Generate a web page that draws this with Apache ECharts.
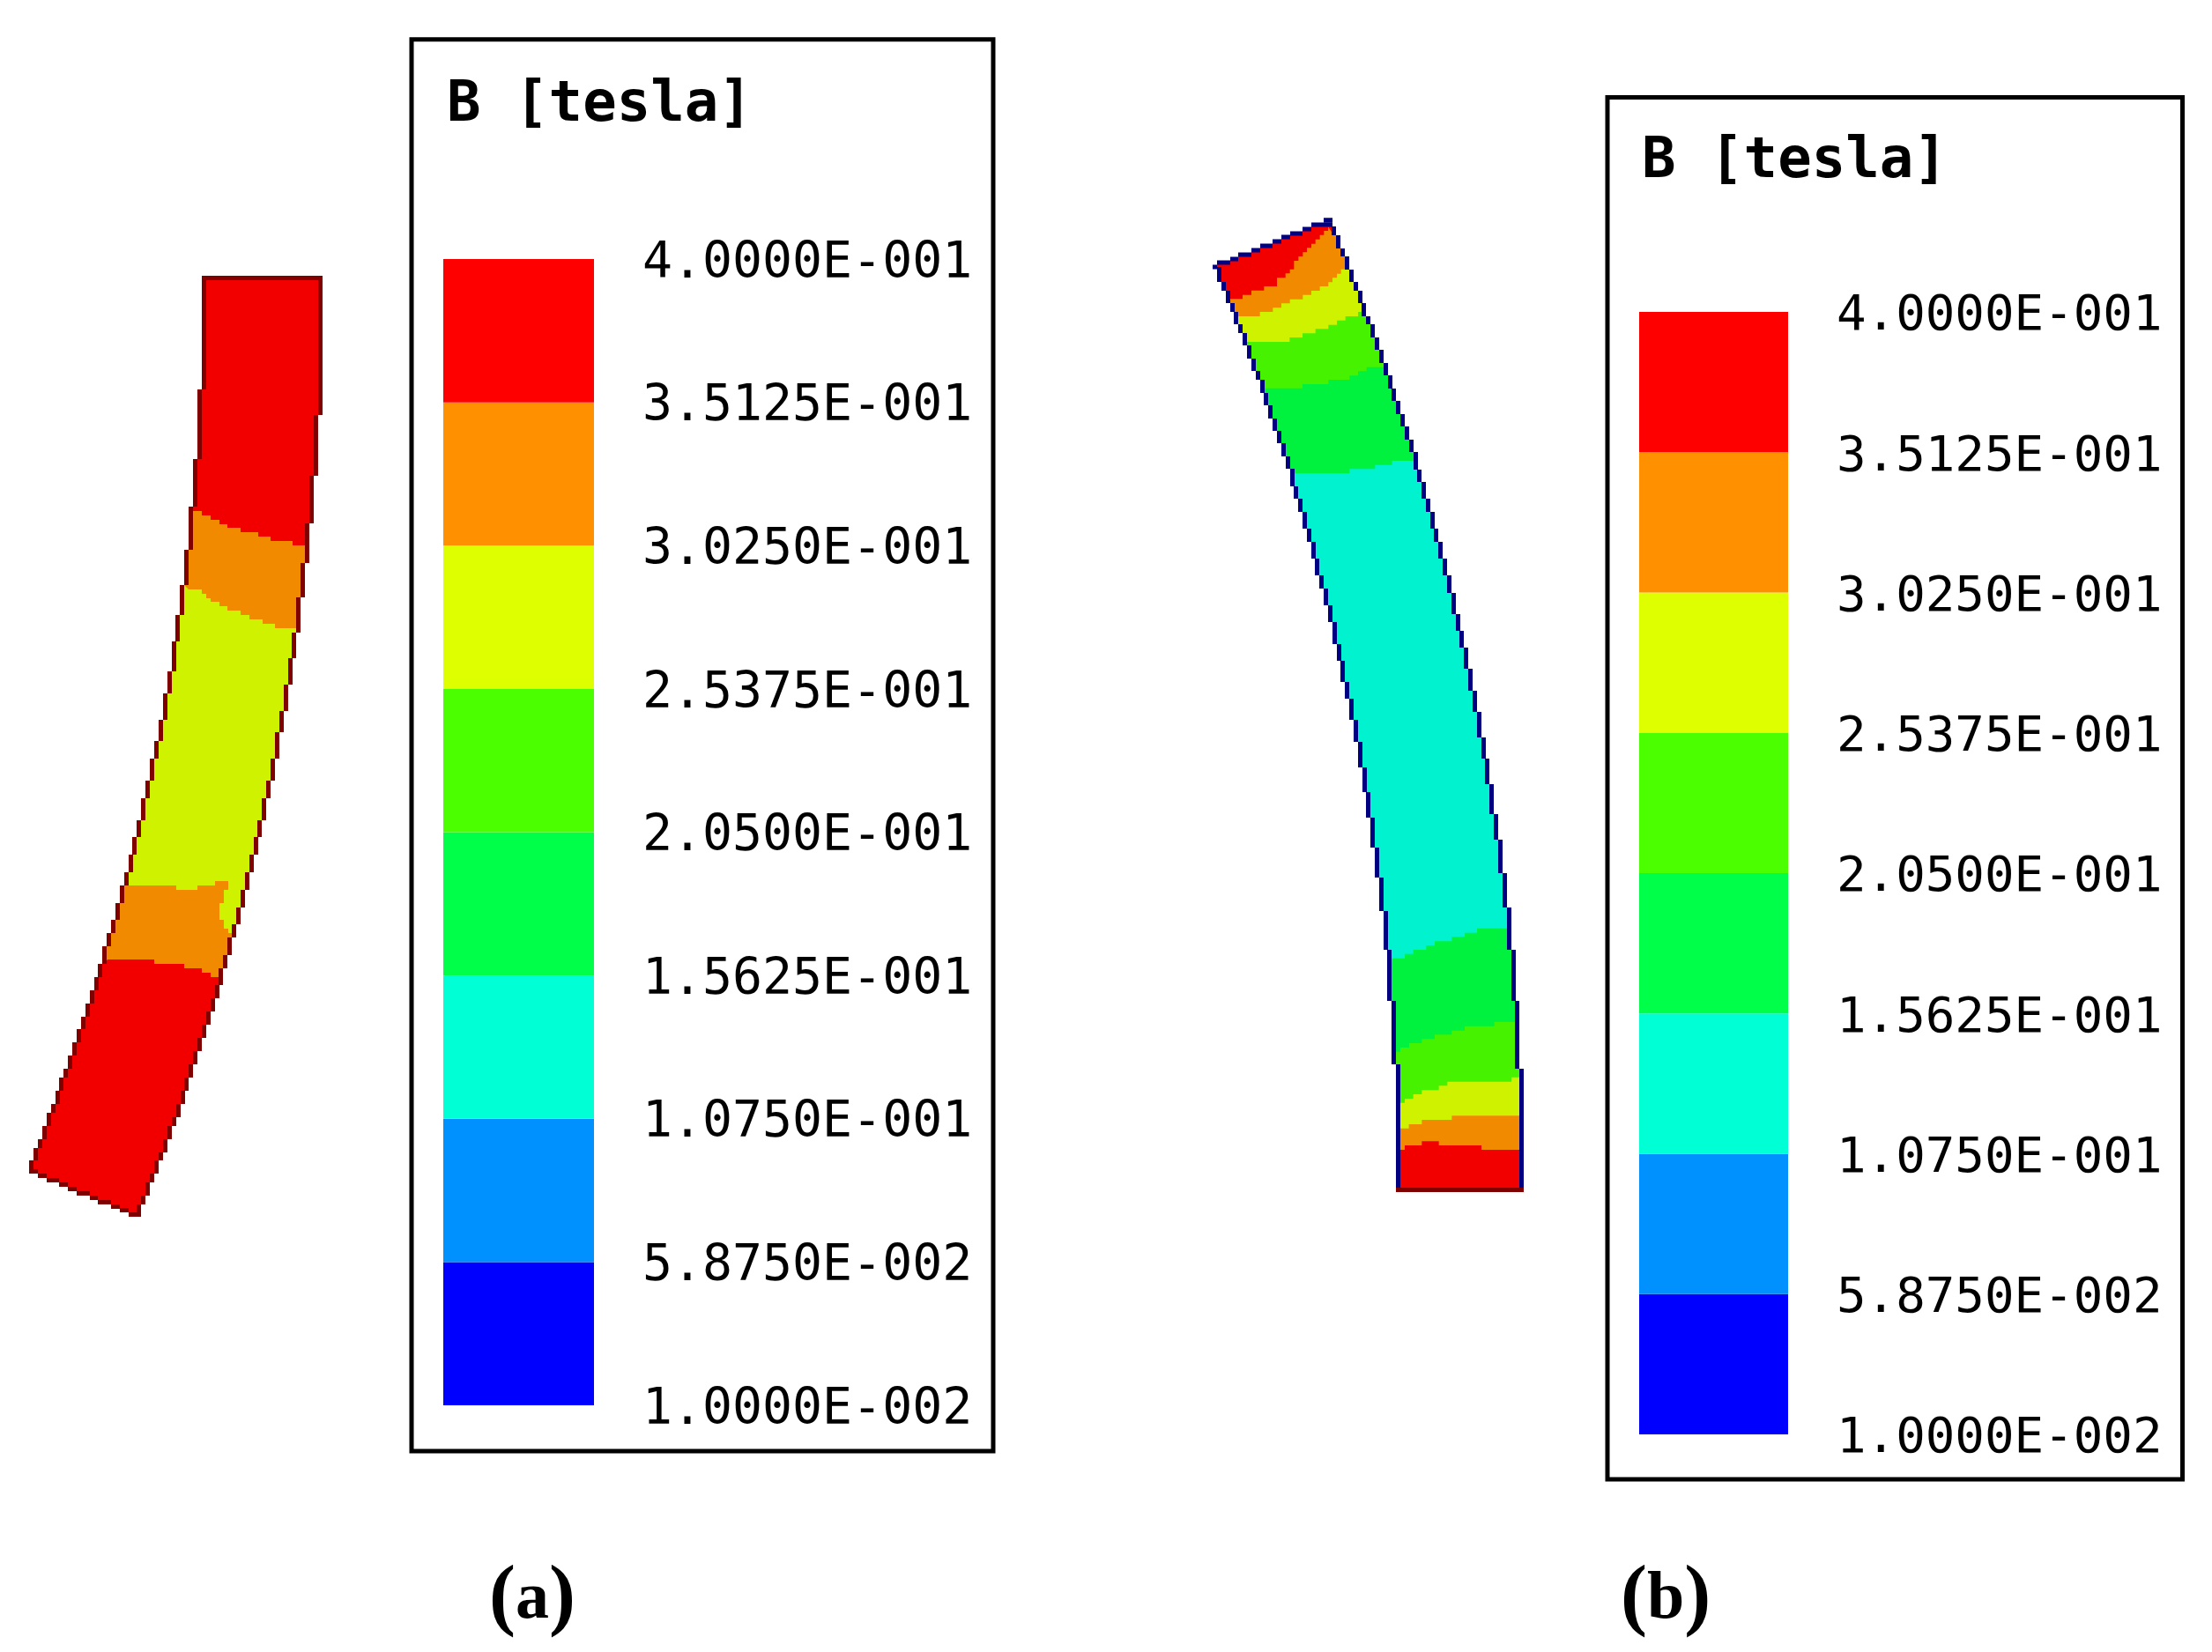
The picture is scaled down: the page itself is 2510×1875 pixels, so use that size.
<!DOCTYPE html>
<html>
<head>
<meta charset="utf-8">
<style>html,body{margin:0;padding:0;background:#fff}#c{width:2510px;height:1875px}</style>
<script src="https://cdn.jsdelivr.net/npm/echarts@6/dist/echarts.min.js"></script>
</head>
<body>
<div id="c"></div>
<script>
// ---------- legend data ----------
const tickLabels = ['1.0000E-002','5.8750E-002','1.0750E-001','1.5625E-001','2.0500E-001','2.5375E-001','3.0250E-001','3.5125E-001','4.0000E-001'];
const legendColors = ['#0000ff','#0091ff','#00ffd5','#00ff48','#4cff00','#ddff00','#ff9100','#ff0000'];
const legendBand = [1,1,1,1,1,1,1,1];
const titleText = 'B [tesla]';

// ---------- contour fill colours ----------
const RED='#f20000', ORA='#f28a00', YEL='#cef200', GR1='#46f200', GR2='#00f23e', CYA='#00f2ce';

// ---------- beam (a) outline, in image units: [x, y where the step ends] ----------
const leftA = [[229,442],[224,521],[219,575],[214,624],[209,664],[204,698],[199,728],[195,762],[190,787],[185,817],[180,841],[175,861],[170,886],[165,906],[160,931],[155,950],[150,970],[146,990],[141,1005],[136,1025],[131,1044],[126,1059],[121,1074],[116,1094],[111,1109],[107,1124],[102,1139],[97,1154],[92,1168],[87,1183],[82,1198],[77,1213],[72,1223],[67,1238],[63,1253],[58,1263],[53,1278],[48,1293],[43,1303],[38,1317],[33,1332]];
const rightA = [[366,471],[361,540],[356,594],[351,639],[346,678],[341,718],[336,747],[332,777],[327,807],[322,831],[317,861],[312,886],[307,906],[302,931],[297,950],[293,970],[288,990],[283,1010],[278,1030],[273,1049],[268,1064],[263,1084],[258,1099],[253,1118],[249,1133],[244,1148],[239,1163],[234,1178],[229,1193],[224,1208],[219,1223],[214,1238],[210,1253],[205,1268],[200,1278],[195,1293],[190,1308],[185,1317],[180,1332],[175,1342],[170,1357],[165,1367],[160,1381]];
const bottomA = [[43,1329.5],[53,1334.5],[67,1339.5],[77,1344.5],[87,1349.5],[102,1354.5],[111,1359.5],[126,1364.5],[136,1369.5],[146,1373.5],[160,1378.5]];
const topA = [[229,315.5],[366,315.5]];

// contour boundaries (a)
const a1 = [[219,580],[229,580],[229,585],[239,585],[239,590],[249,590],[249,595],[258,595],[258,599],[273,599],[273,604],[293,604],[293,609],[307,609],[307,614],[332,614],[332,619],[347,619]];
const a2 = [[209,664],[214,669],[229,669],[229,674],[234,674],[234,679],[239,679],[239,683],[249,683],[249,688],[258,688],[258,693],[273,693],[273,698],[283,698],[283,703],[298,703],[298,708],[312,708],[312,713],[337,713]];
const a3 = [[141,1005],[200,1005],[200,1010],[224,1010],[224,1005],[244,1005],[244,1000],[259,1000],[259,1010],[254,1010],[254,1025],[249,1025],[249,1044],[254,1044],[254,1054],[259,1054],[259,1059],[263,1059]];
const a4 = [[122,1089],[175,1089],[175,1094],[209,1094],[209,1099],[229,1099],[229,1104],[239,1104],[239,1109],[249,1109]];

// ---------- beam (b) outline ----------
const leftB = [[1381,320],[1386,330],[1391,344],[1396,354],[1400,368],[1405,378],[1410,392],[1415,407],[1420,421],[1425,431],[1430,446],[1434,460],[1439,475],[1444,489],[1449,503],[1454,518],[1459,532],[1464,552],[1468,566],[1473,581],[1478,600],[1483,615],[1488,634],[1492,653],[1497,668],[1502,687],[1507,706],[1512,731],[1517,750],[1521,774],[1526,793],[1531,817],[1536,842],[1541,871],[1546,899],[1550,928],[1555,962],[1560,996],[1565,1034],[1570,1078],[1574,1136],[1579,1208],[1584,1353]];
const rightB = [[1516,267],[1521,282],[1526,291],[1531,306],[1536,320],[1541,330],[1546,344],[1550,359],[1555,368],[1560,383],[1565,397],[1570,412],[1575,426],[1580,441],[1584,455],[1589,470],[1594,484],[1599,499],[1604,513],[1609,533],[1613,547],[1618,566],[1623,581],[1628,600],[1632,615],[1637,634],[1642,653],[1647,673],[1652,697],[1657,716],[1661,735],[1666,759],[1671,784],[1676,808],[1681,837],[1686,861],[1690,890],[1695,924],[1700,953],[1705,991],[1710,1030],[1715,1078],[1720,1136],[1724,1213],[1729,1353]];
const topB = [[1376,303],[1381,303],[1381,298],[1396,298],[1396,294],[1405,294],[1405,289],[1420,289],[1420,284],[1430,284],[1430,279],[1444,279],[1444,274],[1454,274],[1454,269],[1464,269],[1464,265],[1478,265],[1478,260],[1488,260],[1488,255],[1512,255],[1512,250],[1502,250],[1512,250],[1512,257]];
const bottomB = [[1729,1350.5]];

// contour boundaries (b), first group in upper crop units, second in lower crop units
const b1z = [[137,328],[180,328],[180,314],[210,314],[210,299],[253,299],[253,285],[297,285],[297,256],[326,256],[326,241],[341,241],[341,227],[355,227],[355,198],[370,198],[370,183],[385,183],[385,169],[399,169],[399,154],[414,154],[414,140],[428,140],[428,125],[443,125],[443,110],[457,110],[457,96],[471,96],[471,82]];
const b2z = [[166,387],[239,387],[239,372],[283,372],[283,358],[312,358],[312,343],[341,343],[341,329],[385,329],[385,314],[414,314],[414,300],[443,300],[443,285],[472,285],[472,271],[486,271],[486,256],[501,256],[501,242],[515,242],[515,227],[530,227]];
const b3z = [[195,474],[340,474],[340,459],[384,459],[384,445],[428,445],[428,430],[472,430],[472,416],[501,416],[501,401],[530,401],[530,387],[573,387],[573,372],[587,372]];
const b4z = [[253,632],[384,632],[384,618],[472,618],[472,603],[544,603],[544,589],[573,589],[573,574],[602,574],[602,560],[660,560]];
const b5z = [[355,922],[544,922],[544,907],[631,907],[631,893],[689,893],[689,879],[762,879]];
const b6z = [[148,203],[192,203],[192,188],[221,188],[221,174],[265,174],[265,159],[294,159],[294,145],[352,145],[352,130],[396,130],[396,116],[438,116],[438,101],[540,101]];
const b7z = [[163,521],[177,521],[177,507],[207,507],[207,492],[250,492],[250,478],[294,478],[294,463],[352,463],[352,449],[396,449],[396,434],[497,434],[497,419],[569,419]];
const b8z = [[177,695],[192,695],[192,681],[221,681],[221,666],[250,666],[250,652],[308,652],[308,637],[337,637],[337,623],[555,623],[555,608],[583,608]];
const b9z = [[177,782],[206,782],[206,768],[250,768],[250,753],[352,753],[352,739],[583,739]];
const b10z = [[177,855],[192,855],[192,840],[250,840],[250,826],[308,826],[308,840],[453,840],[453,855],[583,855]];

// ---------- helpers ----------
const upper = p => p.map(q => [1350 + q[0]/3, 230 + q[1]/3]);
const lower = p => p.map(q => [1530 + q[0]/3, 1020 + q[1]/3]);
function stair(list, y0, dx) {
  const pts = []; let y = y0;
  list.forEach(s => { pts.push([s[0]+dx, y], [s[0]+dx, s[1]]); y = s[1]; });
  return pts;
}
function flat(list, x0) {
  const pts = []; let x = x0;
  list.forEach(s => { pts.push([x, s[1]], [s[0], s[1]]); x = s[0]; });
  return pts;
}
function beam(left, right, bottom, top, y0L, y0R, bandDefs, baseColor) {
  const L = stair(left, y0L, 2.5), R = stair(right, y0R, -2.5);
  L[L.length-1][1] -= 2.5; R[R.length-1][1] -= 2.5;
  const B = flat(bottom, L[L.length-1][0]-2.5);
  const outline = top.concat(R, B.slice().reverse(), L.slice().reverse());
  const polys = [{pts: outline, fill: baseColor}];
  bandDefs.forEach(d => {
    const bd = d[0], yS = bd[0][1], yE = bd[bd.length-1][1];
    const rr = R.filter(p => p[1] > yE), ll = L.filter(p => p[1] > yS);
    polys.push({pts: bd.concat(rr, B.slice().reverse(), ll.slice().reverse()), fill: d[1]});
  });
  // outline pieces: vertical runs at the sides, horizontal runs at the ends
  const sidePieces = [];
  [L, R].forEach(E => { for (let i=0;i<E.length;i+=2) sidePieces.push([E[i],E[i+1]]); });
  const capPieces = [];
  for (let i=0;i<top.length-1;i++) if (top[i][1]===top[i+1][1]) capPieces.push([top[i],top[i+1]]);
  const bottomPieces = [];
  for (let i=0;i<B.length;i+=2) bottomPieces.push([B[i],B[i+1]]);
  return {polys, sidePieces, capPieces, bottomPieces};
}
const A = beam(leftA, rightA, bottomA, topA, 315.5, 315.5,
  [[a1,ORA],[a2,YEL],[a3,ORA],[a4,RED]], RED);
const Bb = beam(leftB, rightB, bottomB, topB, 303, 257,
  [[upper(b1z),ORA],[upper(b2z),YEL],[upper(b3z),GR1],[upper(b4z),GR2],[upper(b5z),CYA],
   [lower(b6z),GR2],[lower(b7z),GR1],[lower(b8z),YEL],[lower(b9z),ORA],[lower(b10z),RED]], RED);

const frameA = [467, 44.7, 1127, 1647];
const frameB = [1824, 110.5, 2476.5, 1679];

function polySeries(name, m, color, bottomColor) {
  const polys = m.polys;
  return {
    type:'custom', name, xAxisIndex:0, yAxisIndex:0, silent:true, clip:false, animation:false,
    data: polys.map((_,i)=>[i]).concat([[polys.length]]),
    renderItem(params, api) {
      const i = params.dataIndex;
      if (i < polys.length) {
        return {type:'polygon', shape:{points: polys[i].pts.map(p=>api.coord(p))}, style:{fill:polys[i].fill, stroke:null}};
      }
      const seg = (s,c) => {
        const a = api.coord(s[0]), b = api.coord(s[1]);
        return {type:'line', shape:{x1:a[0],y1:a[1],x2:b[0],y2:b[1]}, style:{stroke:c, lineWidth:5, lineCap:'butt'}};
      };
      const kids = m.sidePieces.concat(m.capPieces).map(s=>seg(s,color))
        .concat(m.bottomPieces.map(s=>seg(s,bottomColor)));
      return {type:'group', children:kids};
    }
  };
}
function frameSeries(name, f) {
  return {
    type:'custom', name, xAxisIndex:0, yAxisIndex:0, silent:true, clip:false, animation:false,
    data:[[0]],
    renderItem(params, api) {
      const p0 = api.coord([f[0],f[1]]), p1 = api.coord([f[2],f[3]]);
      return {type:'rect', shape:{x:p0[0],y:p0[1],width:p1[0]-p0[0],height:p1[1]-p0[1]}, style:{fill:'none',stroke:'#000',lineWidth:5}};
    }
  };
}
function legendSeries(idx) {
  return legendBand.map((v,i)=>({
    type:'bar', name:'band'+idx+'-'+i, xAxisIndex:idx, yAxisIndex:idx, stack:'legend'+idx,
    data:[v], barWidth:'100%', silent:true, animation:false, itemStyle:{color:legendColors[i]}
  }));
}
function legendY(idx, size) {
  return {type:'value', gridIndex:idx, min:0, max:8, interval:1, position:'right',
    axisLine:{show:false}, axisTick:{show:false}, splitLine:{show:false},
    axisLabel:{margin:55, color:'#000', align:'left',
      formatter:v=>'{t|'+tickLabels[v]+'}',
      rich:{t:{fontFamily:'DejaVu Sans Mono', fontSize:size, color:'#000', padding:[12,0,0,0]}}}};
}
const serif = {
  p:{fontFamily:'Liberation Serif', fontSize:90, color:'#000'},
  b:{fontFamily:'Liberation Serif', fontSize:76, fontWeight:'bold', color:'#000'}
};
const chart = echarts.init(document.getElementById('c'), null, {renderer:'canvas', width:2510, height:1875});
chart.setOption({
  backgroundColor:'#fff',
  animation:false,
  title:[
    {text:titleText, left:502, top:83, textStyle:{fontFamily:'DejaVu Sans Mono', fontWeight:'bold', fontSize:64, color:'#000'}},
    {text:titleText, left:1858, top:147, textStyle:{fontFamily:'DejaVu Sans Mono', fontWeight:'bold', fontSize:64, color:'#000'}},
    {text:'{p|(}{b|a}{p|)}', left:550, top:1766, textStyle:{rich:serif}},
    {text:'{p|(}{b|b}{p|)}', left:1834, top:1766, textStyle:{rich:serif}}
  ],
  grid:[
    {left:0, top:0, width:2510, height:1875},
    {left:503, top:294, width:171, height:1301},
    {left:1860, top:354, width:169, height:1274}
  ],
  xAxis:[
    {type:'value', gridIndex:0, min:0, max:2510, show:false},
    {type:'category', gridIndex:1, data:['B'], show:false},
    {type:'category', gridIndex:2, data:['B'], show:false}
  ],
  yAxis:[
    {type:'value', gridIndex:0, min:0, max:1875, inverse:true, show:false},
    legendY(1,56.5), legendY(2,55.8)
  ],
  series:[
    polySeries('beam a', A, '#800000', '#800000'),
    polySeries('beam b', Bb, '#000080', '#800000'),
    frameSeries('frame a', frameA),
    frameSeries('frame b', frameB)
  ].concat(legendSeries(1), legendSeries(2))
});
</script>
</body>
</html>
